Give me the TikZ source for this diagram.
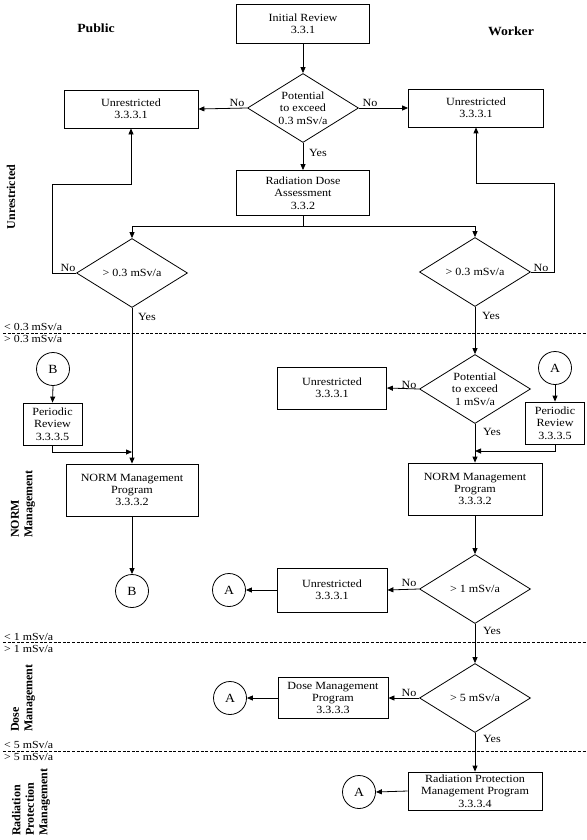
\documentclass[tikz,border=0pt]{standalone}
\usepackage{fontspec}
\setmainfont[FakeStretch=1.1]{Liberation Serif}
\newfontfamily\sidefont{Liberation Serif}
\usetikzlibrary{shapes.geometric,arrows.meta}
\newcommand{\fsz}{\fontsize{11}{12.3}\selectfont}
\begin{document}
\begin{tikzpicture}[x=1pt,y=-1pt,
  box/.style={draw, line width=0.8pt, align=center, inner sep=1pt, font=\fsz},
  dia/.style={draw, diamond, line width=0.8pt, inner sep=0pt, minimum width=111pt, minimum height=69pt},
  dtxt/.style={font=\fsz, align=center, inner sep=0pt},
  circ/.style={draw, circle, line width=0.8pt, minimum size=33pt, inner sep=0pt, font=\fontsize{12.5}{14}\selectfont},
  lab/.style={font=\fsz, inner sep=1pt},
  hd/.style={font=\fontsize{12.5}{14}\selectfont\bfseries, inner sep=0pt},
  side/.style={font=\sidefont\fontsize{12}{13.5}\selectfont\bfseries, inner sep=0pt, rotate=90},
  thr/.style={font=\fontsize{10.8}{11}\selectfont, inner sep=0pt, anchor=west},
  arr/.style={line width=0.8pt, -{Triangle[length=6pt,width=5pt]}},
  ln/.style={line width=0.8pt},
  dsh/.style={line width=0.7pt, dash pattern=on 3pt off 1.6pt}
]
\fill[white] (0,0) rectangle (586,840);
\useasboundingbox (0,0) rectangle (586,840);

% headings
\node[hd] (pub) at (96,28) {Public};
\node[hd] (wrk) at (511,31) {Worker};

% side labels
\node[side, anchor=center] (s1) at (11,197) {Unrestricted};
\node[side, anchor=west, align=left] (s2) at (23,538) {NORM\\Management};
\node[side, anchor=west, align=left] (s3) at (23,732) {Dose\\Management};
\node[side, anchor=west, align=left] (s4) at (31,836) {Radiation\\Protection\\Management};

% threshold lines
\draw[dsh] (3,333) -- (586,333);
\draw[dsh] (3,642) -- (586,642);
\draw[dsh] (3,751) -- (586,751);
\node[thr] (t1a) at (4,327) {< 0.3 mSv/a};
\node[thr] (t1b) at (4,339) {> 0.3 mSv/a};
\node[thr] (t2a) at (4,637) {< 1 mSv/a};
\node[thr] (t2b) at (4,649) {> 1 mSv/a};
\node[thr] (t3a) at (4,745) {< 5 mSv/a};
\node[thr] (t3b) at (4,757) {> 5 mSv/a};

% boxes
\node[box, minimum width=133pt, minimum height=39pt] (ir) at (303,24) {Initial Review\\3.3.1};
\node[box, minimum width=134pt, minimum height=38pt] (ul) at (131,109) {Unrestricted\\3.3.3.1};
\node[box, minimum width=135pt, minimum height=38pt] (ur) at (476,108) {Unrestricted\\3.3.3.1};
\node[box, minimum width=133pt, minimum height=45pt] (rda) at (303,193) {Radiation Dose\\Assessment\\3.3.2};
\node[box, minimum width=59pt, minimum height=42pt] (prl) at (52.5,424) {Periodic\\Review\\3.3.3.5};
\node[box, minimum width=132pt, minimum height=52pt] (nl) at (132,490) {NORM Management\\Program\\3.3.3.2};
\node[box, minimum width=109pt, minimum height=42pt] (u2) at (332,388) {Unrestricted\\3.3.3.1};
\node[box, minimum width=59pt, minimum height=42pt] (prr) at (555,423) {Periodic\\Review\\3.3.3.5};
\node[box, minimum width=134pt, minimum height=52pt] (nr) at (475,489) {NORM Management\\Program\\3.3.3.2};
\node[box, minimum width=110pt, minimum height=44pt] (u3) at (332,590) {Unrestricted\\3.3.3.1};
\node[box, minimum width=110pt, minimum height=41pt] (dm) at (333,698) {Dose Management\\Program\\3.3.3.3};
\node[box, minimum width=134pt, minimum height=38pt] (rp) at (475,791) {Radiation Protection\\Management Program\\3.3.3.4};

% diamonds
\node[dia, label={[dtxt]center:{Potential\\to exceed\\0.3 mSv/a}}] (d1) at (303,108) {};
\node[dia, label={[dtxt]center:{> 0.3 mSv/a}}] (dl) at (132,273) {};
\node[dia, label={[dtxt]center:{> 0.3 mSv/a}}] (dr) at (475,272) {};
\node[dia, label={[dtxt]center:{Potential\\to exceed\\1 mSv/a}}] (d2) at (475,389) {};
\node[dia, label={[dtxt]center:{> 1 mSv/a}}] (d3) at (475,589) {};
\node[dia, label={[dtxt]center:{> 5 mSv/a}}] (d4) at (475,698) {};

% circles
\node[circ] (b1) at (53,369) {B};
\node[circ] (b2) at (132,591) {B};
\node[circ] (a1) at (555,368) {A};
\node[circ] (a2) at (229,590) {A};
\node[circ] (a3) at (230,698) {A};
\node[circ] (a4) at (359,792) {A};

% junction coordinates
\coordinate (jr) at (475,451);
\coordinate (jl) at (132,452);
\coordinate (sp) at (303,226);

% connectors
\draw[arr] (ir.south) -- (d1.north);
\draw[arr] (d1.west) -- (ul.east);
\draw[arr] (d1.east) -- (ur.west);
\draw[arr] (d1.south) -- (rda.north);
\draw[ln] (rda.south) -- (sp);
\draw[arr] (sp) -| (dl.north);
\draw[arr] (sp) -| (dr.north);
\draw[arr] (dl.west) -- ++(-24,0) -- ++(0,-89) -| (ul.south);
\draw[arr] (dr.east) -- ++(23,0) -- ++(0,-89) -| (ur.south);
\draw[arr] (dl.south) -- (nl.north);
\draw[arr] (b1.south) -- (prl.north);
\draw[arr] (prl.south) |- (jl);
\draw[arr] (nl.south) -- (b2.north);
\draw[arr] (dr.south) -- (d2.north);
\draw[arr] (d2.west) -- (u2.east);
\draw[arr] (a1.south) -- (prr.north);
\draw[arr] (prr.south) |- (jr);
\draw[arr] (d2.south) -- (nr.north);
\draw[arr] (nr.south) -- (d3.north);
\draw[arr] (d3.west) -- (u3.east);
\draw[arr] (u3.west) -- (a2.east);
\draw[arr] (d3.south) -- (d4.north);
\draw[arr] (d4.west) -- (dm.east);
\draw[arr] (dm.west) -- (a3.east);
\draw[arr] (d4.south) -- (rp.north);
\draw[arr] (rp.west) -- (a4.east);

% yes / no labels
\node[lab] (n1) at (237,103) {No};
\node[lab] (n2) at (370,103) {No};
\node[lab] (y1) at (318,153) {Yes};
\node[lab] (n3) at (68,268) {No};
\node[lab] (n4) at (541,268) {No};
\node[lab] (y2) at (147,317) {Yes};
\node[lab] (y3) at (491,316) {Yes};
\node[lab] (n5) at (409,385) {No};
\node[lab] (y4) at (492,432) {Yes};
\node[lab] (n6) at (409,583) {No};
\node[lab] (y5) at (492,631) {Yes};
\node[lab] (n7) at (409,693) {No};
\node[lab] (y6) at (492,739) {Yes};
\end{tikzpicture}
\end{document}
